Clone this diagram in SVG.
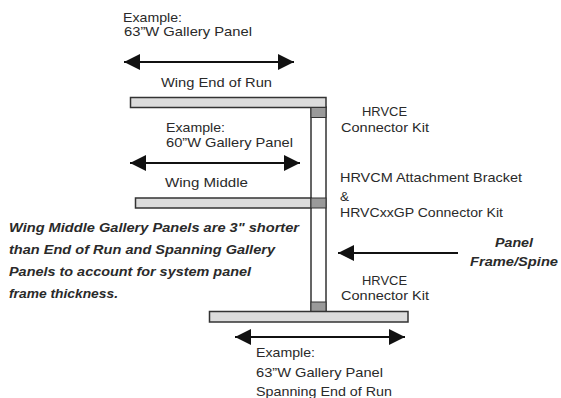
<svg xmlns="http://www.w3.org/2000/svg" width="561" height="398" viewBox="0 0 561 398">
<style>
.t{font-family:"Liberation Sans",Arial,sans-serif;font-size:13.5px;fill:#2a2a2a}
.b{font-family:"Liberation Sans",Arial,sans-serif;font-size:13px;font-weight:bold;font-style:italic;fill:#2a2a2a}
.panel{fill:#dcdcdc;stroke:#333;stroke-width:1.5}
.spine{fill:#fff;stroke:#333;stroke-width:1.5}
.conn{fill:#9a9a9a;stroke:#333;stroke-width:1}
.arr{stroke:#111;stroke-width:2;fill:none;marker-start:url(#ah);marker-end:url(#ah)}
.arr1{stroke:#111;stroke-width:2;fill:none;marker-end:url(#ah)}
</style>
<defs>
<marker id="ah" viewBox="0 0 16 16" refX="16" refY="8" markerWidth="16" markerHeight="16" markerUnits="userSpaceOnUse" orient="auto-start-reverse">
<path d="M0,0 L16,8 L0,16 Z" fill="#111"/>
</marker>
</defs>
<g id="spine">
<rect class="spine" x="311" y="107" width="15" height="204"/>
</g>
<g id="panel-end-of-run">
<rect class="panel" x="130.5" y="97.5" width="195.5" height="10"/>
<rect class="conn" x="311" y="107.5" width="15" height="10"/>
</g>
<g id="panel-middle">
<rect class="panel" x="135.5" y="198" width="175.5" height="10"/>
<rect class="conn" x="311" y="198" width="15" height="10"/>
</g>
<g id="panel-spanning">
<rect class="conn" x="311" y="302" width="15" height="9.5"/>
<rect class="panel" x="209.5" y="311.5" width="198.5" height="10.5"/>
</g>
<g id="connectors">
<line class="arr" x1="124" y1="62" x2="294" y2="62"/>
<line class="arr" x1="130" y1="163" x2="300" y2="163"/>
<line class="arr" x1="235" y1="337" x2="405" y2="337"/>
<line class="arr1" x1="458" y1="253" x2="338" y2="253"/>
</g>
<g id="labels">
<text class="t" x="123" y="22" textLength="59" lengthAdjust="spacingAndGlyphs">Example:</text>
<text class="t" x="124" y="36" textLength="128" lengthAdjust="spacingAndGlyphs">63”W Gallery Panel</text>
<text class="t" x="161" y="87" textLength="111" lengthAdjust="spacingAndGlyphs">Wing End of Run</text>
<text class="t" x="166" y="132" textLength="59" lengthAdjust="spacingAndGlyphs">Example:</text>
<text class="t" x="166" y="147" textLength="127" lengthAdjust="spacingAndGlyphs">60”W Gallery Panel</text>
<text class="t" x="165" y="187" textLength="83" lengthAdjust="spacingAndGlyphs">Wing Middle</text>
<text class="t" x="362" y="116" textLength="45" lengthAdjust="spacingAndGlyphs">HRVCE</text>
<text class="t" x="341" y="132" textLength="88" lengthAdjust="spacingAndGlyphs">Connector Kit</text>
<text class="t" x="340" y="182" textLength="182" lengthAdjust="spacingAndGlyphs">HRVCM Attachment Bracket</text>
<text class="t" x="340" y="201">&amp;</text>
<text class="t" x="340" y="217" textLength="163" lengthAdjust="spacingAndGlyphs">HRVCxxGP Connector Kit</text>
<text class="t" x="362" y="285" textLength="45" lengthAdjust="spacingAndGlyphs">HRVCE</text>
<text class="t" x="341" y="300" textLength="88" lengthAdjust="spacingAndGlyphs">Connector Kit</text>
<text class="b" x="514" y="247" text-anchor="middle" textLength="38" lengthAdjust="spacingAndGlyphs">Panel</text>
<text class="b" x="514" y="266" text-anchor="middle" textLength="88" lengthAdjust="spacingAndGlyphs">Frame/Spine</text>
<text class="b" x="9" y="232" textLength="290" lengthAdjust="spacingAndGlyphs">Wing Middle Gallery Panels are 3" shorter</text>
<text class="b" x="9" y="254" textLength="266" lengthAdjust="spacingAndGlyphs">than End of Run and Spanning Gallery</text>
<text class="b" x="9" y="276" textLength="242" lengthAdjust="spacingAndGlyphs">Panels to account for system panel</text>
<text class="b" x="9" y="298" textLength="109" lengthAdjust="spacingAndGlyphs">frame thickness.</text>
<text class="t" x="256" y="357" textLength="59" lengthAdjust="spacingAndGlyphs">Example:</text>
<text class="t" x="256" y="377" textLength="127" lengthAdjust="spacingAndGlyphs">63”W Gallery Panel</text>
<text class="t" x="256" y="396" textLength="136" lengthAdjust="spacingAndGlyphs">Spanning End of Run</text>
</g>
</svg>
